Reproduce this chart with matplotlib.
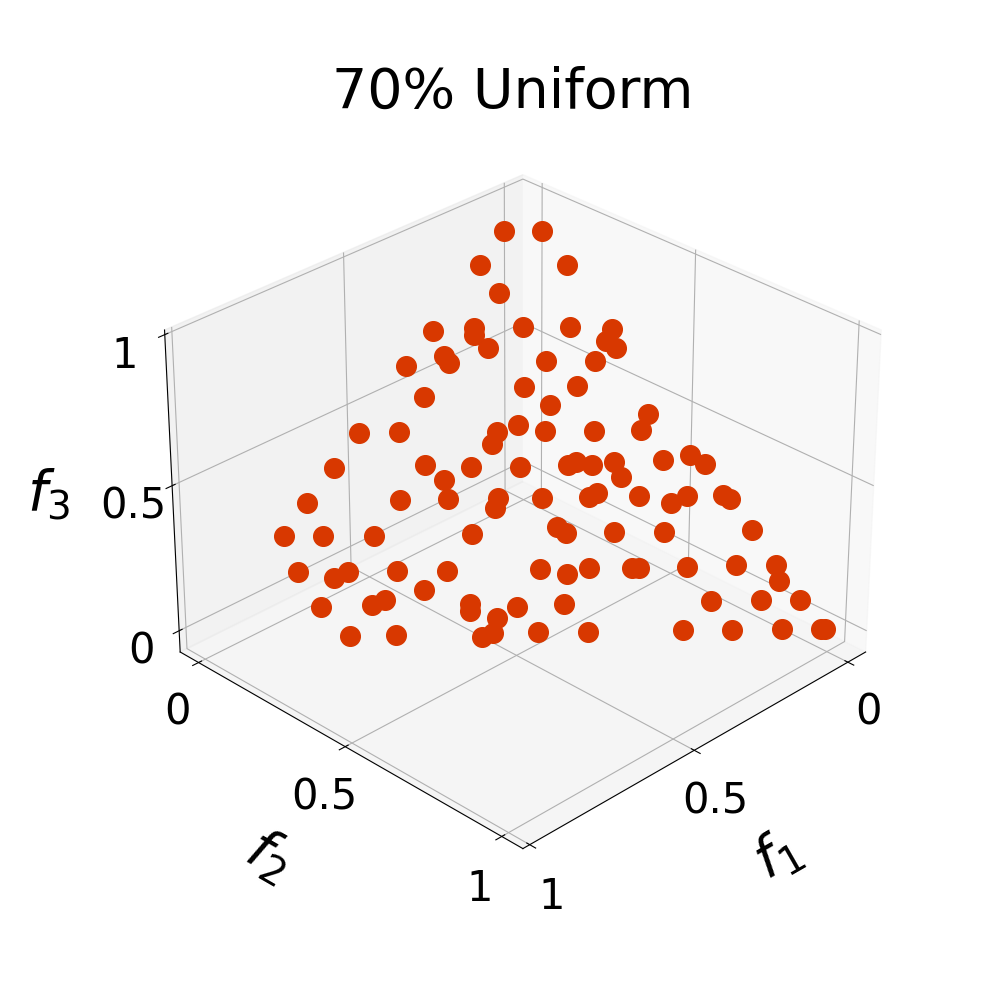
import matplotlib
matplotlib.use("Agg")
from matplotlib import pyplot as plt

f1 = [.071, .010, .149, .010, .149, .298, .229, .236, .151, .075, .011, .034, .025,
      .230, .308, .308, .380, .152, .074, .216, .131, .386, .195, .049, .530, .465,
      .311, .270, .233, .155, .078, .332, .029, .078, .016, .609, .461, .391, .313,
      .235, .219, .197, .157, .163, .448, .690, .540, .463, .383, .398, .313, .237,
      .220, .157, .115, .081, .023, .015, .016, .763, .700, .621, .464, .322, .314,
      .237, .158, .781, .731, .701, .623, .545, .395, .358, .317, .249, .238, .160,
      .081, .018, .031, .603, .783, .702, .676, .546, .554, .518, .475, .397, .162,
      .082, .019, .769, .697, .563, .541, .469, .391, .240, .162, .082, .019, .013]
f2 = [.010, .073, .009, .157, .074, .009, .074, .082, .156, .234, .307, .311, .336,
      .123, .057, .074, .007, .234, .316, .229, .316, .073, .292, .465, .009, .073,
      .236, .263, .316, .396, .472, .243, .581, .544, .618, .009, .157, .234, .316,
      .393, .402, .432, .465, .494, .206, .007, .157, .234, .316, .323, .388, .465,
      .473, .545, .606, .626, .682, .699, .771, .007, .072, .156, .316, .446, .467,
      .546, .628, .073, .141, .157, .235, .317, .468, .517, .546, .619, .630, .707,
      .785, .850, .873, .302, .155, .235, .251, .395, .403, .454, .475, .547, .786,
      .865, .930, .236, .310, .454, .467, .539, .622, .773, .853, .933, .997, 1.003]
f3 = [.916, .916, .838, .838, .773, .686, .692, .677, .695, .695, .690, .663, .647,
      .649, .629, .613, .606, .618, .618, .559, .561, .536, .518, .497, .454, .457,
      .457, .472, .459, .459, .461, .429, .404, .391, .384, .375, .384, .379, .379,
      .382, .389, .382, .389, .355, .350, .296, .305, .307, .309, .287, .309, .309,
      .318, .311, .296, .311, .314, .305, .234, .223, .223, .225, .228, .243, .230,
      .230, .232, .142, .131, .145, .147, .147, .149, .138, .151, .151, .151, .154,
      .156, .156, .120, .105, .068, .071, .082, .073, .057, .043, .066, .073, .077,
      .080, .080, .005, .007, .000, .009, .011, .011, .014, .014, .016, .016, .016]
ticks = [0, 0.5, 1]
tick_labels = ["0", "0.5", "1"]

fig = plt.figure(figsize=(10, 10), dpi=100)
ax = fig.add_subplot(projection="3d")
ax.scatter(f1, f2, f3, s=200, c="#D83800", depthshade=False)
ax.view_init(elev=30, azim=45)
ax.set_xlim(-0.06, 1.02)
ax.set_ylim(-0.065, 1.065)
ax.set_zlim(-0.075, 1.015)
ax.set_xticks(ticks)
ax.set_yticks(ticks)
ax.set_zticks(ticks)
ax.set_xticklabels(tick_labels, fontsize=30)
ax.set_yticklabels(tick_labels, fontsize=30)
ax.set_zticklabels(tick_labels, fontsize=30)
ax.tick_params(axis="x", pad=9)
ax.tick_params(axis="y", pad=9)
ax.tick_params(axis="z", pad=8)
ax.zaxis.set_rotate_label(False)
ax.set_xlabel("$f_1$", fontsize=40, labelpad=40)
ax.set_ylabel("$f_2$", fontsize=40, labelpad=40)
ax.set_zlabel("$f_3$", fontsize=40, labelpad=30)
ax.set_title("70% Uniform", fontsize=40)
fig.savefig("out.png")
